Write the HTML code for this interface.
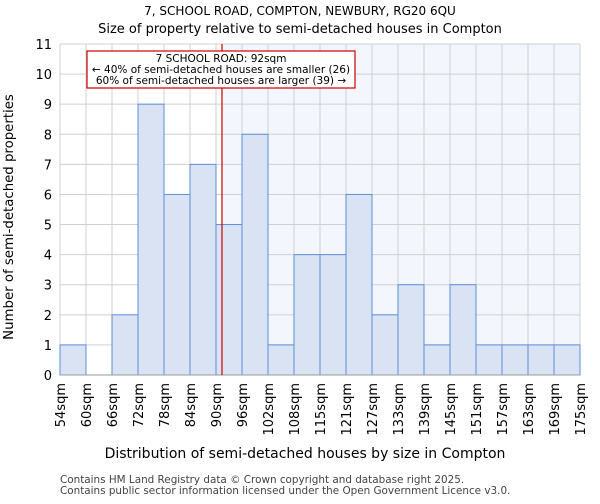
<!DOCTYPE html>
<html><head><meta charset="utf-8"><style>
body{margin:0;background:#fff;font-family:"DejaVu Sans","Liberation Sans",sans-serif}
</style></head><body>
<svg id="chart" width="600" height="500" xmlns="http://www.w3.org/2000/svg" font-family="DejaVu Sans, Liberation Sans, sans-serif">
<text x="300" y="15" text-anchor="middle" font-size="12">7, SCHOOL ROAD, COMPTON, NEWBURY, RG20 6QU</text>
<text x="300" y="33" text-anchor="middle" font-size="13">Size of property relative to semi-detached houses in Compton</text>
<g id="plot"></g>
<text x="305" y="458" text-anchor="middle" font-size="14">Distribution of semi-detached houses by size in Compton</text>
<text transform="translate(13,217) rotate(-90)" text-anchor="middle" font-size="13.3">Number of semi-detached properties</text>
<text x="60" y="483" font-size="10.4" fill="#444">Contains HM Land Registry data © Crown copyright and database right 2025.</text>
<text x="60" y="494" font-size="10.4" fill="#444">Contains public sector information licensed under the Open Government Licence v3.0.</text>
</svg>
<script>
const categories=["54sqm","60sqm","66sqm","72sqm","78sqm","84sqm","90sqm","96sqm","102sqm","108sqm","115sqm","121sqm","127sqm","133sqm","139sqm","145sqm","151sqm","157sqm","163sqm","169sqm","175sqm"];
const counts=[1,0,2,9,6,7,5,8,1,4,4,6,2,3,1,3,1,1,1,1];
const yTicks=[0,1,2,3,4,5,6,7,8,9,10,11];
const markerBin=6.23;
const NS="http://www.w3.org/2000/svg";
const g=document.getElementById('plot');
const X0=60,X1=580,Y0=375,Y1=44,YMAX=11;
const bw=(X1-X0)/counts.length;
const xs=i=>X0+i*bw, ys=v=>Y0-(v/YMAX)*(Y0-Y1);
function el(t,a){const e=document.createElementNS(NS,t);for(const k in a)e.setAttribute(k,a[k]);g.appendChild(e);return e;}
const mx=xs(markerBin);
let e=el('rect',{x:mx,y:Y1,width:X1-mx,height:Y0-Y1,fill:'#f3f6fd'});


yTicks.forEach(t=>{let l=el('line',{x1:X0,x2:X1,y1:ys(t),y2:ys(t),stroke:'#d0d0d0'});


let tx=el('text',{x:X0-8,y:ys(t)+5,'text-anchor':'end','font-size':13});tx.textContent=t;

});
categories.forEach((c,i)=>{let l=el('line',{x1:xs(i),x2:xs(i),y1:Y1,y2:Y0,stroke:'#d0d0d0'});


let tx=el('text',{transform:`translate(${xs(i)+5},${Y0+8}) rotate(-90)`,'text-anchor':'end','font-size':13});tx.textContent=c;

});
counts.forEach((v,i)=>{if(v<=0)return;let r=el('rect',{x:xs(i),y:ys(v),width:bw,height:Y0-ys(v),fill:'#dae3f3',stroke:'#5b8fd6','stroke-width':1});

});
let ax=el('line',{x1:X0,x2:X1,y1:Y0,y2:Y0,stroke:'#999'});


let ml=el('line',{x1:mx,x2:mx,y1:Y1,y2:Y0,stroke:'#cc0000','stroke-width':1.2});


let box=el('rect',{x:87,y:51,width:268,height:37,fill:'#fff',stroke:'#cc0000','stroke-width':1.2});


["7 SCHOOL ROAD: 92sqm","← 40% of semi-detached houses are smaller (26)","60% of semi-detached houses are larger (39) →"].forEach((s,i)=>{
let t=el('text',{x:221,y:62+i*11,'text-anchor':'middle','font-size':10.5});t.textContent=s;

});
</script>
</body></html>
